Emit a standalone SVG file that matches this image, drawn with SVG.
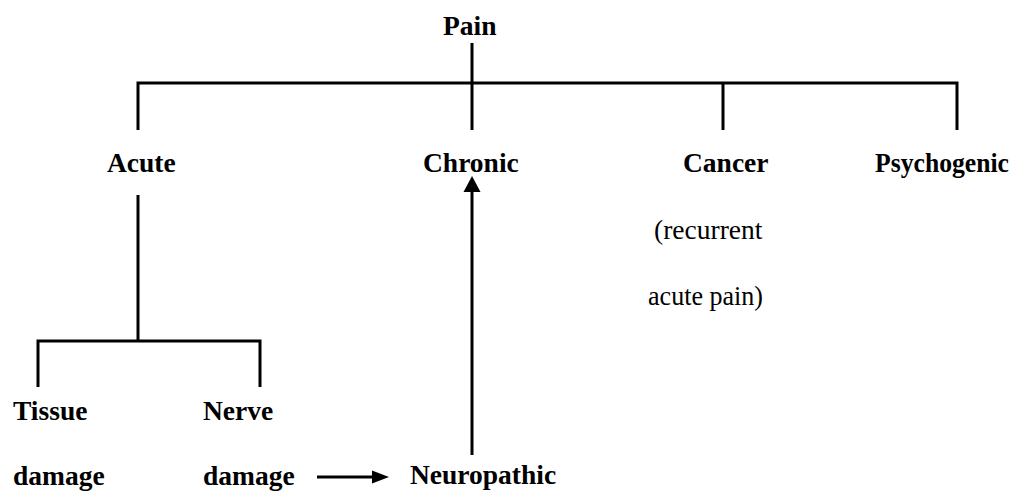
<svg xmlns="http://www.w3.org/2000/svg" width="1024" height="492" viewBox="0 0 1024 492">
  <style>
    .lbl { font-family: "Liberation Serif", "Times New Roman", serif; font-size: 27.5px; font-weight: bold; fill: #000; }
    .note { font-family: "Liberation Serif", "Times New Roman", serif; font-size: 27.5px; fill: #000; }
    .ln { stroke: #000; stroke-width: 3; fill: none; stroke-linecap: butt; }
    .head { fill: #000; }
  </style>
  <rect width="1024" height="492" fill="#fff"/>

  <!-- connectors -->
  <g id="connectors">
    <!-- Pain trunk and top bus -->
    <line class="ln" x1="472" y1="43" x2="472" y2="130"/>
    <polyline class="ln" points="138,130 138,83 957,83 957,130"/>
    <line class="ln" x1="723" y1="83" x2="723" y2="130"/>
    <!-- Acute branch -->
    <line class="ln" x1="138" y1="195" x2="138" y2="341"/>
    <polyline class="ln" points="38,387 38,341 260,341 260,387"/>
    <!-- Neuropathic up to Chronic -->
    <line class="ln" x1="472" y1="455" x2="472" y2="190"/>
    <polygon class="head" points="472,176 480.5,192 463.5,192"/>
    <!-- Nerve damage to Neuropathic -->
    <line class="ln" x1="317" y1="477" x2="374" y2="477"/>
    <polygon class="head" points="389,477 372,470.5 372,483.5"/>
  </g>

  <g id="pain"><text class="lbl" x="443" y="35">Pain</text></g>
  <g id="acute"><text class="lbl" x="107" y="172">Acute</text></g>
  <g id="chronic"><text class="lbl" x="423" y="172">Chronic</text></g>
  <g id="cancer">
    <text class="lbl" x="683" y="172">Cancer</text>
    <text class="note" x="654" y="239">(recurrent</text>
    <text class="note" x="648" y="305" textLength="115" lengthAdjust="spacingAndGlyphs">acute pain)</text>
  </g>
  <g id="psychogenic"><text class="lbl" x="875" y="172" textLength="134" lengthAdjust="spacingAndGlyphs">Psychogenic</text></g>
  <g id="tissue-damage">
    <text class="lbl" x="13" y="420">Tissue</text>
    <text class="lbl" x="13" y="485">damage</text>
  </g>
  <g id="nerve-damage">
    <text class="lbl" x="203" y="420">Nerve</text>
    <text class="lbl" x="203" y="485">damage</text>
  </g>
  <g id="neuropathic"><text class="lbl" x="410" y="484">Neuropathic</text></g>
</svg>
